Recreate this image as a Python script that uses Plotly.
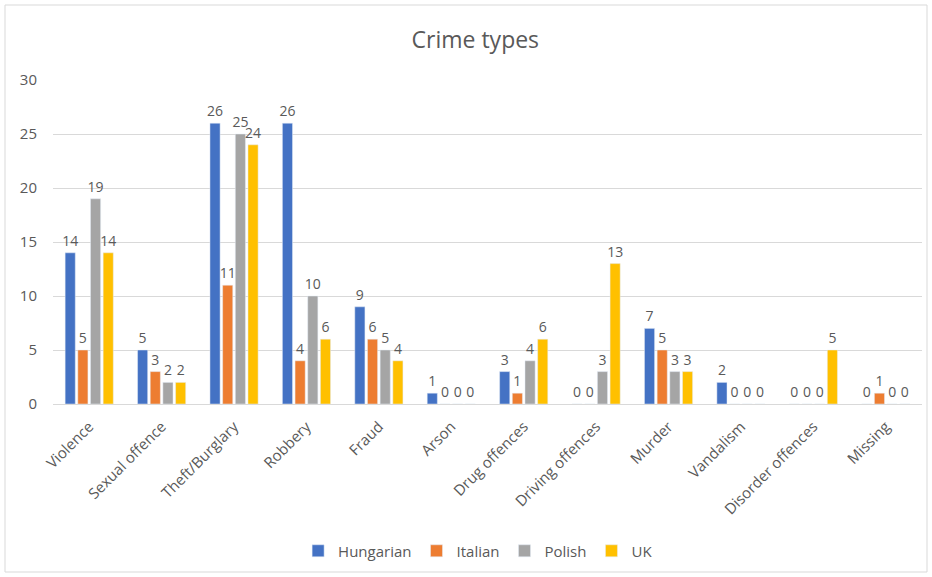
import plotly.graph_objects as go

categories = ["Violence", "Sexual offence", "Theft/Burglary", "Robbery", "Fraud", "Arson",
              "Drug offences", "Driving offences", "Murder", "Vandalism", "Disorder offences", "Missing"]
hungarian = [14, 5, 26, 26, 9, 1, 3, 0, 7, 2, 0, 0]
italian = [5, 3, 11, 4, 6, 0, 1, 0, 5, 0, 0, 1]
polish = [19, 2, 25, 10, 5, 0, 4, 3, 3, 0, 0, 0]
uk = [14, 2, 24, 6, 4, 0, 6, 13, 3, 0, 5, 0]
series_names = ["Hungarian", "Italian", "Polish", "UK"]
series_values = [hungarian, italian, polish, uk]
colors = ["#4472C4", "#ED7D31", "#A5A5A5", "#FFC000"]

FONT = "Open Sans"
GREY = "#595959"

fig = go.Figure()
for name, vals, col in zip(series_names, series_values, colors):
    fig.add_trace(go.Bar(
        x=categories, y=vals, name=name, marker_color=col,
        text=[str(v) for v in vals], textposition="outside", cliponaxis=False,
        constraintext="none",
        outsidetextfont=dict(family=FONT, size=14, color=GREY),
        textfont=dict(family=FONT, size=14, color=GREY),
    ))

L, R, T, B = 53, 10, 80, 173
W, H = 932, 577
pw, ph = W - L - R, H - T - B
bx0, bx1, by0, by1 = 5, 927, 5, 572
fig.add_shape(type="rect", xref="paper", yref="paper",
              x0=(bx0 - L) / pw, x1=(bx1 - L) / pw,
              y0=(H - B - by1) / ph, y1=(H - B - by0) / ph,
              line=dict(color="#d9d9d9", width=1), fillcolor="rgba(0,0,0,0)", layer="below")

fig.update_layout(
    width=W, height=H,
    margin=dict(l=L, r=R, t=T, b=B),
    paper_bgcolor="white", plot_bgcolor="white",
    barmode="group", bargap=0.30, bargroupgap=0.2,
    uniformtext=dict(minsize=14, mode="show"),
    title=dict(text="Crime types", x=0.51, xanchor="center", y=0.93, yanchor="middle",
               font=dict(family=FONT, size=23, color=GREY)),
    font=dict(family=FONT, size=15, color=GREY),
    xaxis=dict(tickangle=-45, showgrid=False, showline=True, linecolor="#d9d9d9",
               tickfont=dict(family=FONT, size=15, color=GREY), ticks="", ticklabelstandoff=7),
    yaxis=dict(range=[0, 30], dtick=5, showgrid=True, gridcolor="#d9d9d9", zeroline=False,
               tickfont=dict(family=FONT, size=15, color=GREY), ticks="", ticklabelstandoff=15),
    legend=dict(orientation="h", xref="container", yref="container", x=0.513, xanchor="center",
                y=0.045, yanchor="middle", font=dict(family=FONT, size=15, color=GREY),
                itemwidth=30, traceorder="normal"),
    showlegend=True,
)

fig.write_html("out.html")
